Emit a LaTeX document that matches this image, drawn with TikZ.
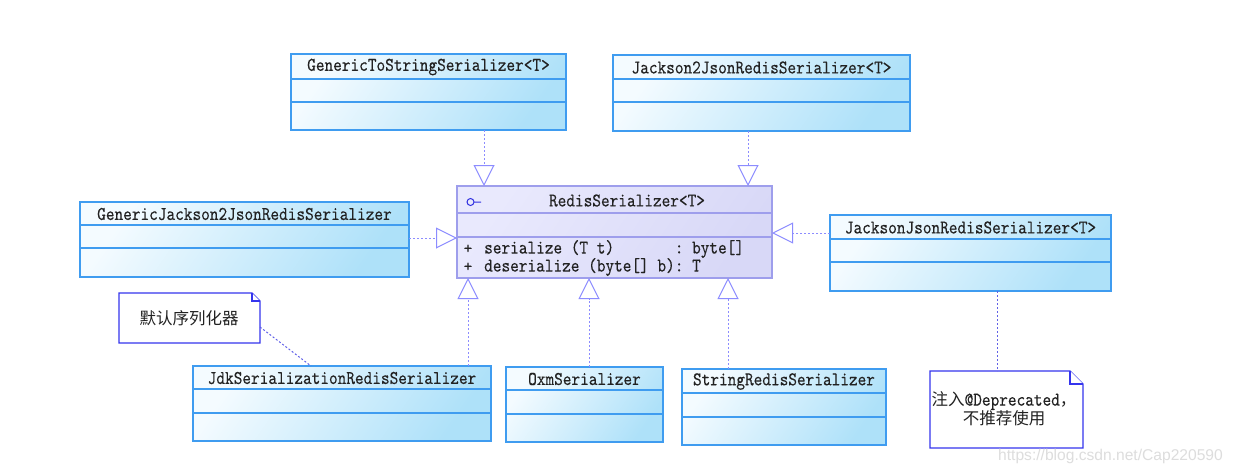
\documentclass[tikz,border=0pt]{standalone}
\usepackage{fontspec}
\usepackage{graphicx}
\newfontfamily\cjk{Noto Sans CJK SC}
\newfontfamily\wmfont{Liberation Sans}
\newfontfamily\clsfont[FakeBold=0.2]{lmmono10-regular.otf}
\usetikzlibrary{arrows.meta,calc}
\definecolor{clsborder}{HTML}{3F9CF0}
\definecolor{clslight}{HTML}{F4FBFF}
\definecolor{clsdark}{HTML}{AEE1F9}
\definecolor{ifborder}{HTML}{9E9EEC}
\definecolor{iflight}{HTML}{E9E9FD}
\definecolor{ifdark}{HTML}{D8D8F7}
\definecolor{conn}{HTML}{8C8CFF}
\definecolor{notelinkc}{HTML}{6060E8}
\definecolor{noteborder}{HTML}{3535EE}
\definecolor{txt}{HTML}{222222}
\definecolor{wm}{HTML}{DDDDDD}
\definecolor{iconc}{HTML}{3030E0}
\newcommand\tallt[1]{\scalebox{1}[1.18]{#1}}
\tikzset{
  clsbox/.style={draw=clsborder, line width=1.2pt, top color=clslight, bottom color=clsdark, shading angle=55, anchor=north west, inner sep=0pt, outer sep=0pt},
  clsdiv/.style={draw=clsborder, line width=1.2pt},
  ifbox/.style={draw=ifborder, line width=1.2pt, top color=iflight, bottom color=ifdark, shading angle=55, anchor=north west, inner sep=0pt, outer sep=0pt},
  ifdiv/.style={draw=ifborder, line width=1.2pt},
  clstitle/.style={font=\fontsize{16.5}{18}\selectfont\clsfont, text=txt, inner sep=0pt},
  impl/.style={draw=conn, line width=1pt, dash pattern=on 2pt off 2pt, -{Triangle[open, length=21pt, width=21pt, line width=1pt]}},
  notelink/.style={draw=notelinkc, line width=1pt, dash pattern=on 2pt off 2pt},
  noteline/.style={draw=noteborder, line width=1.2pt, fill=white},
  notearea/.style={anchor=north west, inner sep=0pt, outer sep=0pt, draw=none},
  notetext/.style={font=\fontsize{16.5}{17}\selectfont\cjk, text=txt, inner sep=0pt}
}
\newcommand\classbox[8]{%
  \node[clsbox, minimum width={#4-#2}, minimum height={#5-#3}] (#1) at (#2,#3) {};
  \draw[clsdiv] (#2,#6) -- (#4,#6) (#2,#7) -- (#4,#7);
  \node[clstitle] (#1-title) at ({(#2+#4)/2},{(#3+#6)/2+0.5}) {\tallt{#8}};
}
\newcommand\notebox[6]{%
  \node[notearea, minimum width={#4-#2}, minimum height={#5-#3}] (#1) at (#2,#3) {};
  \draw[noteline] (#2,#3) -- (#4-#6,#3) -- (#4,#3+#6) -- (#4,#5) -- (#2,#5) -- cycle;
  \draw[noteline] (#4-#6,#3) |- (#4,#3+#6);
}
\begin{document}
\begin{tikzpicture}[x=1pt,y=-1pt]
\useasboundingbox (0,0) rectangle (1234,474);
\fill[white] (0,0) rectangle (1234,474);

% classes
\classbox{gts}{291}{54}{566}{130}{79}{102}{GenericToStringSerializer<T>}
\classbox{jjs2}{613}{55}{910}{131}{79}{102}{Jackson2JsonRedisSerializer<T>}
\classbox{gjj}{80}{202}{409}{277}{225}{248}{GenericJackson2JsonRedisSerializer}
\classbox{jjs}{830}{215}{1111}{291}{239}{262}{JacksonJsonRedisSerializer<T>}
\classbox{jdk}{193}{366}{491}{441}{389}{413}{JdkSerializationRedisSerializer}
\classbox{oxm}{506}{367}{663}{442}{390}{414}{OxmSerializer}
\classbox{srs}{682}{369}{886}{445}{393}{417}{StringRedisSerializer}

% interface
\node[ifbox, minimum width=315, minimum height=92] (rs) at (457,186) {};
\draw[ifdiv] (457,213) -- (772,213) (457,237) -- (772,237);
\node[clstitle] (rs-title) at (627,200.5) {\tallt{RedisSerializer<T>}};
\draw[iconc, line width=1pt] (470.5,202) circle (3.5) (474,202) -- (481,202);
\node[clstitle] (rs-p1) at (468,249) {+};
\node[clstitle] (rs-p2) at (468,267) {+};
\node[clstitle, anchor=west] (rs-m1) at (484,249) {\tallt{serialize~(T~t)~~~~~~~:~byte[]}};
\node[clstitle, anchor=west] (rs-m2) at (484,267) {\tallt{deserialize~(byte[]~b):~T}};

% notes
\notebox{n1}{119}{293}{260}{343}{8}
\node[notetext] (n1-text) at (189,318) {默认序列化器};
\notebox{n2}{930}{371}{1083}{448}{13}
\node[notetext, align=center] (n2-text) at (1004,409) {注入{\clsfont\tallt{@Deprecated}}，\\不推荐使用};

% connector positions
\coordinate (x1) at (484,0);
\coordinate (x2) at (748,0);
\coordinate (x3) at (468,0);
\coordinate (x4) at (589,0);
\coordinate (x5) at (728,0);
\coordinate (x6) at (311,0);
\coordinate (x7) at (997,0);
\coordinate (y1) at (0,238);
\coordinate (y2) at (0,233);
\coordinate (y3) at (0,327);

\draw[impl] (gts.south -| x1) -- (rs.north -| x1);
\draw[impl] (jjs2.south -| x2) -- (rs.north -| x2);
\draw[impl] (gjj.east |- y1) -- (rs.west |- y1);
\draw[impl] (jjs.west |- y2) -- (rs.east |- y2);
\draw[impl] (jdk.north -| x3) -- (rs.south -| x3);
\draw[impl] (oxm.north -| x4) -- (rs.south -| x4);
\draw[impl] (srs.north -| x5) -- (rs.south -| x5);
\draw[notelink] (n1.east |- y3) -- (jdk.north -| x6);
\draw[notelink] (jjs.south -| x7) -- (n2.north -| x7);

% watermark
\node[font=\fontsize{15.6}{18}\selectfont\wmfont, text=wm, anchor=west, inner sep=0pt] (wmark) at (998,456) {https://blog.csdn.net/Cap220590};
\end{tikzpicture}
\end{document}
